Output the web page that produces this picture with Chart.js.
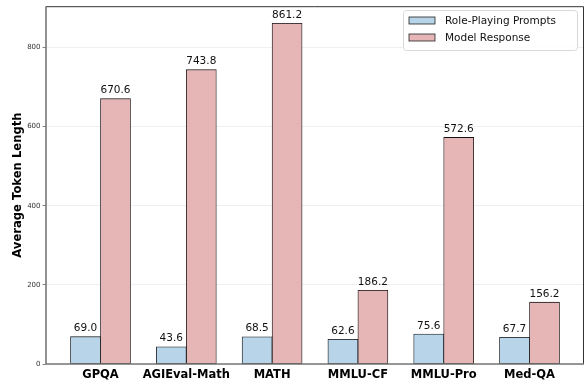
<!DOCTYPE html>
<html lang="en">
<head>
  <meta charset="UTF-8">
  <title>Average Token Length</title>
  <style>
    body { margin: 0; background: #fff; }
    #wrap { width: 585px; height: 383px; }
  </style>
  <script src="https://cdn.jsdelivr.net/npm/chart.js"></script>
</head>
<body>
  <div id="wrap"><canvas id="chart" width="585" height="383"></canvas></div>
  <script>
    const categories = ['GPQA', 'AGIEval-Math', 'MATH', 'MMLU-CF', 'MMLU-Pro', 'Med-QA'];
    const promptLen = [69.0, 43.6, 68.5, 62.6, 75.6, 67.7];
    const responseLen = [670.6, 743.8, 861.2, 186.2, 572.6, 156.2];
    const yTicks = [0, 200, 400, 600, 800];
    const seriesNames = ['Role-Playing Prompts', 'Model Response'];

    const blue = '#b7d4e8';
    const red = '#e6b6b7';

    // value labels above each bar
    const valueLabels = {
      id: 'valueLabels',
      afterDatasetsDraw(chart) {
        const ctx = chart.ctx;
        ctx.save();
        ctx.font = '10.5px "DejaVu Sans"';
        ctx.fillStyle = '#111';
        ctx.textAlign = 'center';
        ctx.textBaseline = 'alphabetic';
        chart.data.datasets.forEach((ds, i) => {
          chart.getDatasetMeta(i).data.forEach((bar, j) => {
            ctx.fillText(ds.data[j].y.toFixed(1), bar.x, bar.y - 5.5);
          });
        });
        ctx.restore();
      }
    };

    // axes frame and legend box
    const frame = {
      id: 'frame',
      afterDraw(chart) {
        const { ctx, chartArea: a } = chart;
        ctx.save();
        ctx.strokeStyle = '#333';
        ctx.lineWidth = 1;
        ctx.beginPath();
        ctx.moveTo(a.left, a.top + 0.5);
        ctx.lineTo(a.right - 0.5, a.top + 0.5);
        ctx.lineTo(a.right - 0.5, a.bottom);
        ctx.stroke();
        ctx.strokeStyle = '#777';
        ctx.lineWidth = 1.6;
        ctx.beginPath();
        ctx.moveTo(a.left, a.top);
        ctx.lineTo(a.left, a.bottom);
        ctx.lineTo(a.right, a.bottom);
        ctx.stroke();

        // legend
        ctx.fillStyle = 'rgba(255,255,255,0.9)';
        ctx.strokeStyle = '#d8d8d8';
        ctx.lineWidth = 1;
        ctx.beginPath();
        ctx.roundRect(403.5, 10.5, 174, 40, 3);
        ctx.fill();
        ctx.stroke();
        ctx.font = '10.5px "DejaVu Sans"';
        ctx.textBaseline = 'middle';
        ctx.textAlign = 'left';
        const cols = [blue, red];
        [20.5, 37.5].forEach((y, i) => {
          ctx.fillStyle = cols[i];
          ctx.fillRect(409, y - 3.5, 26, 7);
          ctx.strokeStyle = '#222';
          ctx.lineWidth = 0.8;
          ctx.strokeRect(409, y - 3.5, 26, 7);
          ctx.fillStyle = '#111';
          ctx.fillText(seriesNames[i], 445, y + 0.5);
        });
        ctx.restore();
      }
    };

    new Chart(document.getElementById('chart'), {
      type: 'bar',
      data: {
        datasets: [
          {
            label: seriesNames[0],
            data: promptLen.map((v, i) => ({ x: i, y: v })),
            backgroundColor: blue,
            borderColor: '#111',
            borderWidth: 0.8,
            borderSkipped: false,
            barThickness: 30
          },
          {
            label: seriesNames[1],
            data: responseLen.map((v, i) => ({ x: i, y: v })),
            backgroundColor: red,
            borderColor: '#111',
            borderWidth: 0.8,
            borderSkipped: false,
            barThickness: 30
          }
        ]
      },
      options: {
        responsive: false,
        animation: false,
        layout: { padding: { top: 4, right: 1, left: 0, bottom: 0 } },
        plugins: {
          legend: { display: false },
          tooltip: { enabled: false }
        },
        scales: {
          x: {
            type: 'linear',
            min: -0.635,
            max: 5.635,
            offset: false,
            afterBuildTicks: s => { s.ticks = categories.map((c, i) => ({ value: i })); },
            afterFit: s => { s.height = 19; },
            grid: { display: false, drawTicks: true, tickLength: 3, tickColor: '#555' },
            border: { display: false },
            ticks: {
              autoSkip: false,
              maxRotation: 0,
              padding: 1,
              color: '#000',
              font: { family: 'DejaVu Sans', size: 11.5, weight: 'bold' },
              callback: v => categories[v]
            }
          },
          y: {
            min: 0,
            max: 904.26,
            afterBuildTicks: s => { s.ticks = yTicks.map(v => ({ value: v })); },
            afterFit: s => { s.width = 46; },
            border: { display: false },
            grid: { color: '#ebebeb', lineWidth: 0.8, tickLength: 3.5, tickColor: '#666' },
            ticks: {
              padding: 2,
              color: '#333',
              font: { family: 'DejaVu Sans', size: 7 }
            },
            title: {
              display: true,
              text: 'Average Token Length',
              color: '#000',
              padding: { top: 11, bottom: 0 },
              font: { family: 'DejaVu Sans', size: 11.6, weight: 'bold' }
            }
          }
        }
      },
      plugins: [valueLabels, frame]
    });
  </script>
</body>
</html>
